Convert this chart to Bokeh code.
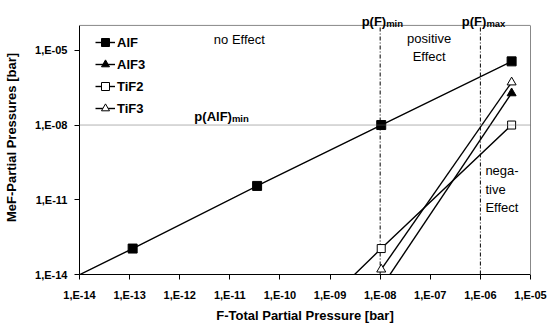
from bokeh.plotting import figure
from bokeh.models import (Span, Label, Legend, LegendItem, FixedTicker, CustomJSTickFormatter,
                          Range1d, LogAxis)
from bokeh.embed import file_html
from bokeh.resources import INLINE

# ---- data ----
alf_x = [1e-15, 1.15e-13, 3.5e-11, 1.05e-8, 4.2e-6]
alf_y = [1e-15, 1.1e-13, 3.6e-11, 1.0e-8, 3.6e-6]
alf3_x = [1.05e-8, 4.2e-6]
alf3_y = [3e-15, 1.9e-7]
tif2_x = [1e-9, 1.05e-8, 4.2e-6]
tif2_y = [1.1e-15, 1.1e-13, 1.0e-8]
tif3_x = [1.05e-8, 4.2e-6]
tif3_y = [1.6e-14, 5.2e-7]
x_ticks = [1e-14, 1e-13, 1e-12, 1e-11, 1e-10, 1e-9, 1e-8, 1e-7, 1e-6, 1e-5]
y_ticks = [1e-14, 1e-11, 1e-8, 1e-5]
pf_lines = [1e-8, 1e-6]          # p(F)min, p(F)max
pf_names = ["min", "max"]
palf_min = 1e-8
x_lo, x_hi = 1e-14, 1e-5
y_lo, y_hi = 1e-14, 1e-4
y_room = 1e-3                    # headroom above the axes box for the p(F) labels

FONT = "Liberation Sans"
GRAY = "#888888"

p = figure(width=549, height=325, x_axis_type="log", y_axis_type="log",
           x_range=Range1d(x_lo, x_hi), y_range=Range1d(y_lo, y_room),
           output_backend="svg", toolbar_location=None,
           min_border_left=79, min_border_right=19, min_border_top=0, min_border_bottom=50)
p.background_fill_color = "white"
p.border_fill_color = "white"
p.outline_line_color = None
p.xgrid.visible = False
p.ygrid.visible = False

fmt = CustomJSTickFormatter(code="""
const e = Math.round(Math.log10(tick));
const s = Math.abs(e).toString().padStart(2, '0');
return "1,E" + (e < 0 ? "-" : "+") + s;
""")

for ax, ticks in ((p.xaxis[0], x_ticks), (p.yaxis[0], y_ticks)):
    ax.ticker = FixedTicker(ticks=ticks, minor_ticks=[])
    ax.formatter = fmt
    ax.axis_line_color = "black"
    ax.major_tick_line_color = "black"
    ax.major_tick_in = 0
    ax.major_tick_out = 5
    ax.minor_tick_line_color = None
    ax.major_label_text_font = FONT
    ax.major_label_text_font_style = "bold"
    ax.major_label_text_font_size = "11px"
    ax.major_label_text_color = "black"
    ax.axis_label_text_font = FONT
    ax.axis_label_text_font_style = "bold"
    ax.axis_label_text_font_size = "13px"
    ax.axis_label_text_color = "black"

p.yaxis.bounds = (y_lo, y_hi)
p.xaxis.axis_label = "F-Total Partial Pressure [bar]"
p.yaxis.axis_label = "MeF-Partial Pressures [bar]"
p.xaxis.major_label_standoff = 9
p.xaxis.axis_label_standoff = 4
p.yaxis.major_label_standoff = 7
p.yaxis.axis_label_standoff = 13

# gray box lines: right side and top
right = LogAxis(bounds=(y_lo, y_hi), ticker=FixedTicker(ticks=[], minor_ticks=[]),
                axis_line_color=GRAY, major_tick_line_color=None, minor_tick_line_color=None,
                major_label_text_color=None)
p.add_layout(right, "right")
p.add_layout(Span(location=y_hi, dimension="width", line_color=GRAY, line_width=1))

# reference lines
p.add_layout(Span(location=palf_min, dimension="width", line_color="#666666",
                  line_dash="1 1", line_width=1))
p.segment(x0=pf_lines, y0=[y_lo] * len(pf_lines), x1=pf_lines, y1=[y_hi] * len(pf_lines),
          line_color="black", line_dash="4 2 1 2", line_width=1)

# series
lw = 1.4
l1 = p.line(alf_x, alf_y, line_color="black", line_width=lw)
s1 = p.scatter(alf_x, alf_y, marker="square", size=9, fill_color="black", line_color="black")
l2 = p.line(alf3_x, alf3_y, line_color="black", line_width=lw)
s2 = p.scatter(alf3_x, alf3_y, marker="triangle", size=9, fill_color="black", line_color="black")
l3 = p.line(tif2_x, tif2_y, line_color="black", line_width=lw)
s3 = p.scatter(tif2_x, tif2_y, marker="square", size=8, fill_color="white", line_color="black")
l4 = p.line(tif3_x, tif3_y, line_color="black", line_width=lw)
s4 = p.scatter(tif3_x, tif3_y, marker="triangle", size=9, fill_color="white", line_color="black")

legend = Legend(items=[LegendItem(label="AlF", renderers=[l1, s1]),
                       LegendItem(label="AlF3", renderers=[l2, s2]),
                       LegendItem(label="TiF2", renderers=[l3, s3]),
                       LegendItem(label="TiF3", renderers=[l4, s4])],
                location=(16, 156), padding=0, margin=0, spacing=2,
                glyph_width=20, glyph_height=20, label_height=20, label_standoff=2,
                border_line_color=None, background_fill_alpha=0,
                label_text_font=FONT, label_text_font_style="bold",
                label_text_font_size="13px", label_text_color="black")
p.add_layout(legend)

def lab(text, x, y, size="13px", bold=False, align="left", baseline="alphabetic", xo=0, yo=0):
    p.add_layout(Label(x=x, y=y, text=text, x_offset=xo, y_offset=yo,
                       text_font=FONT, text_font_size=size,
                       text_font_style="bold" if bold else "normal",
                       text_align=align, text_baseline=baseline, text_color="black"))

# region labels
lab("no Effect", 1.55e-11, y_hi, align="center", baseline="middle", yo=-14)
lab("positive", 9.5e-8, y_hi, align="center", baseline="middle", yo=-13)
lab("Effect", 9.5e-8, y_hi, align="center", baseline="middle", yo=-31)
lab("nega-", pf_lines[1], y_lo, align="left", baseline="middle", xo=5, yo=104)
lab("tive", pf_lines[1], y_lo, align="left", baseline="middle", xo=5, yo=85)
lab("Effect", pf_lines[1], y_lo, align="left", baseline="middle", xo=5, yo=67)
lab("p(AlF)", 1.1e-11, palf_min, bold=True, align="right", yo=9)
lab("min", 1.1e-11, palf_min, size="9.5px", bold=True, align="left", yo=7)

# threshold labels above the box
for xv, sub in zip(pf_lines, pf_names):
    lab("p(F)", xv, y_hi, bold=True, align="right", xo=6, yo=4)
    lab(sub, xv, y_hi, size="9.5px", bold=True, align="left", xo=6, yo=2)

open("out.html", "w").write(file_html(p, INLINE))
